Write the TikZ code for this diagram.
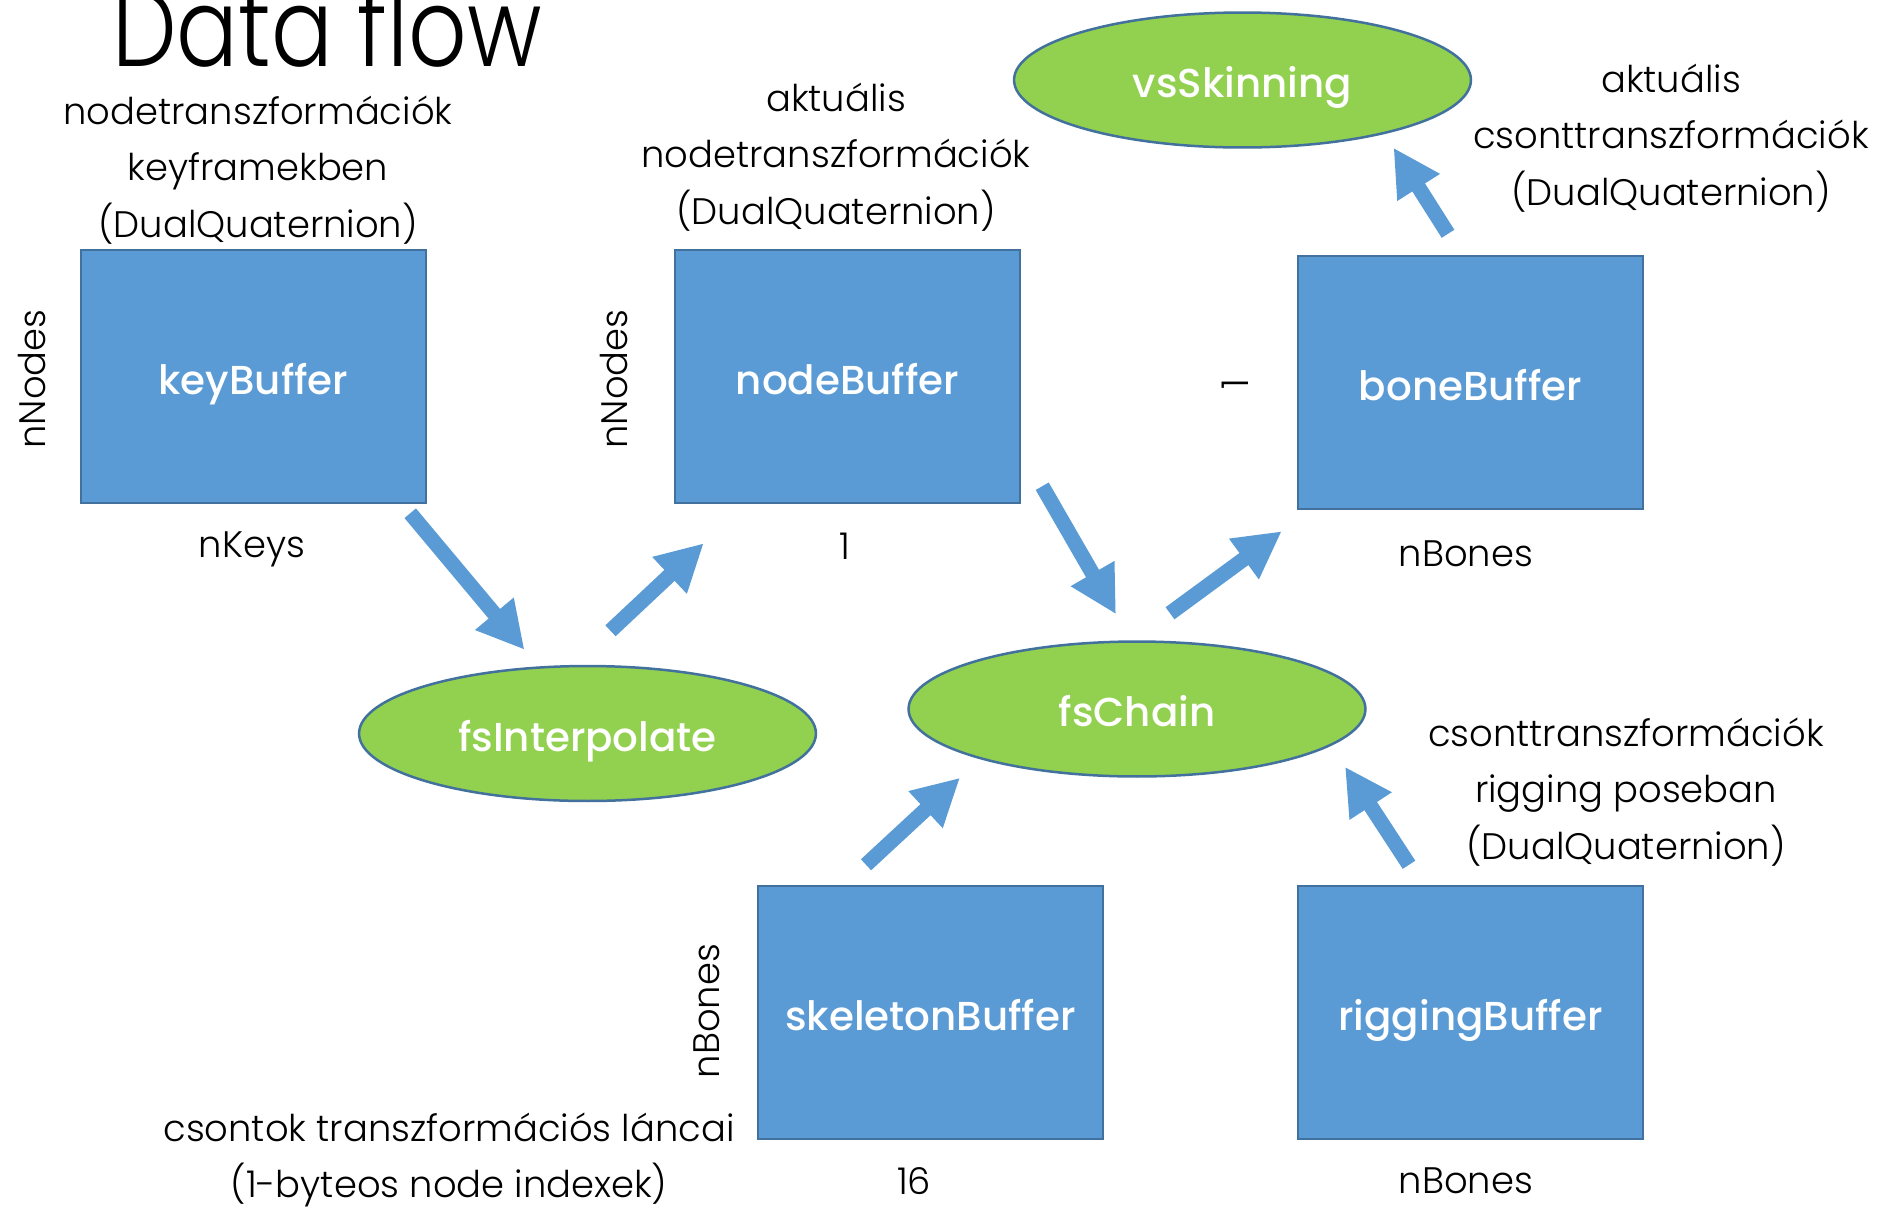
\documentclass[tikz,border=0pt]{standalone}
\usepackage{fontspec}
\setmainfont{Poppins Light}
\newfontfamily\boxfont{Poppins Medium}
\usetikzlibrary{shapes.geometric,arrows.meta,calc}

\definecolor{boxblue}{HTML}{5B9BD5}
\definecolor{edgeblue}{HTML}{41719C}
\definecolor{procgreen}{HTML}{92D050}

\tikzset{
  buffer/.style={rectangle, draw=edgeblue, line width=0.05cm, fill=boxblue,
    minimum width=6.9cm, minimum height=5.06cm, inner sep=0pt,
    text height=0.86cm, text depth=0.16cm,
    text=white, font=\boxfont\fontsize{23}{28}\selectfont},
  process/.style={ellipse, draw=edgeblue, line width=0.05cm, fill=procgreen,
    minimum width=9.14cm, minimum height=2.7cm, inner sep=0pt,
    text height=0.86cm, text depth=0.16cm,
    text=white, font=\boxfont\fontsize{23}{28}\selectfont},
  note/.style={align=center, inner sep=0pt, font=\fontsize{21}{32}\selectfont},
  dim/.style={inner sep=0pt, font=\fontsize{21}{26}\selectfont},
  flow/.style={draw=boxblue, line width=0.3cm,
    -{Triangle[length=0.94cm,width=0.94cm,fill=boxblue]}}
}

\begin{document}
\begin{tikzpicture}[x=0.02cm, y=-0.02cm]
  \useasboundingbox (0,0) rectangle (1880,1211);

  % title
  \node[anchor=base, inner sep=0pt, xscale=0.84, font=\fontsize{62}{70}\selectfont] (title) at (327,66) {Data flow};

  % buffers
  \node[buffer] (keyBuffer)      at (253.5,376.5)  {keyBuffer};
  \node[buffer] (nodeBuffer)     at (847.5,376.5)  {nodeBuffer};
  \node[buffer] (boneBuffer)     at (1470.5,382.5) {boneBuffer};
  \node[buffer] (skeletonBuffer) at (930.5,1012.5) {skeletonBuffer};
  \node[buffer] (riggingBuffer)  at (1470.5,1012.5){riggingBuffer};

  % shader passes
  \node[process] (vsSkinning)    at (1242.5,80)  {vsSkinning};
  \node[process] (fsInterpolate) at (587.5,733.5) {fsInterpolate};
  \node[process] (fsChain)       at (1137,709)    {fsChain};

  % descriptions
  \node[note] (keyNote)  at (258,170)  {nodetranszformációk\\keyframekben\\(DualQuaternion)};
  \node[note] (nodeNote) at (836,157)  {aktuális\\nodetranszformációk\\(DualQuaternion)};
  \node[note] (boneNote) at (1671,138) {aktuális\\csonttranszformációk\\(DualQuaternion)};
  \node[note] (rigNote)  at (1626,792) {csonttranszformációk\\rigging poseban\\(DualQuaternion)};
  \node[note] (skelNote) at (449,1160) {csontok transzformációs láncai\\(1-byteos node indexek)};

  % buffer dimensions
  \node[dim] (keyW)   at (252,549)  {nKeys};
  \node[dim, rotate=90] (keyH)  at (32,379)  {nNodes};
  \node[dim] (nodeW)  at (845,546)  {1};
  \node[dim, rotate=90] (nodeH) at (614,379) {nNodes};
  \node[dim, rotate=90] (boneH) at (1235,384) {1};
  \node[dim] (boneW)  at (1466,554) {nBones};
  \node[dim, rotate=90] (skelH) at (707,1011) {nBones};
  \node[dim] (skelW)  at (914,1181) {16};
  \node[dim] (rigW)   at (1466,1181) {nBones};

  % data flow
  \draw[flow] ($(keyBuffer.south east)+(-17,9)$) -- ($(fsInterpolate.north)+(-63,-15)$);
  \draw[flow] ($(fsInterpolate.north)+(23,-34)$) -- ($(nodeBuffer.south west)+(30,39)$);
  \draw[flow] ($(nodeBuffer.south east)+(21,-18)$) -- ($(fsChain.north)+(-21,-26)$);
  \draw[flow] ($(fsChain.north)+(33,-27)$) -- ($(boneBuffer.south west)+(-15,21)$);
  \draw[flow] ($(boneBuffer.north)+(-22.5,-21)$) -- ($(vsSkinning.south)+(151,-1)$);
  \draw[flow] ($(skeletonBuffer.north)+(-64.5,-20)$) -- ($(fsChain.south)+(-177,0)$);
  \draw[flow] ($(riggingBuffer.north)+(-61.5,-20)$) -- ($(fsChain.south)+(208,-11)$);
\end{tikzpicture}
\end{document}
